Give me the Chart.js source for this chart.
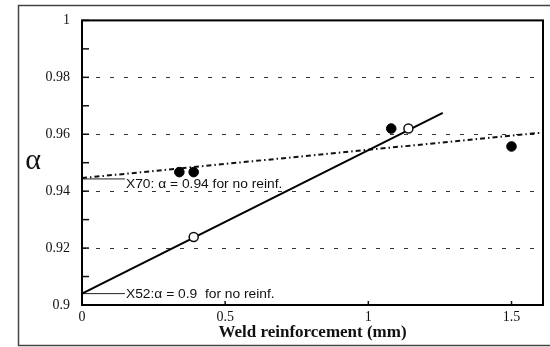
<!DOCTYPE html>
<html>
<head>
<meta charset="utf-8">
<script src="https://cdn.jsdelivr.net/npm/chart.js@4"></script>
<style>
  html, body { margin: 0; padding: 0; background: #fff; }
</style>
</head>
<body>
<canvas id="chart" width="550" height="347"></canvas>
<script>
// X70 points (filled) and X52 points (open)
const x70X = [0.34, 0.39, 1.08, 1.50];
const x70Alpha = [0.9467, 0.9467, 0.962, 0.9557];
const x52X = [0.39, 1.14];
const x52Alpha = [0.9239, 0.962];

// fitted lines
const x52FitX = [0, 1.26];
const x52FitAlpha = [0.904, 0.9675];
const x70FitX = [0, 1.61];
const x70FitAlpha = [0.9446, 0.9606];

// notes with short leader lines
const noteText = ['X70: \u03b1 = 0.94 for no reinf.', 'X52:\u03b1 = 0.9  for no reinf.'];
const noteLeaderX = [0, 0.15];
const noteAlpha = [0.9443, 0.904];
const noteLabelAlpha = [0.9422, 0.9035];

const xTicks = [0, 0.5, 1, 1.5];
const yTicks = [0.9, 0.92, 0.94, 0.96, 0.98, 1];

const pts = (xs, ys) => xs.map((x, i) => ({ x: x, y: ys[i] }));
const fmt = (v) => String(Math.round(v * 100) / 100);
const isMajor = (v) => yTicks.some((t) => Math.abs(t - v) < 1e-6);

const frame = {
  id: "frame",
  afterDatasetsDraw(chart) {
    const { ctx, chartArea: a, scales } = chart;
    ctx.save();
    // inner ticks
    ctx.strokeStyle = "#111";
    ctx.lineWidth = 1.5;
    scales.y.ticks.forEach((t) => {
      const y = scales.y.getPixelForValue(t.value);
      ctx.beginPath();
      ctx.moveTo(a.left, y);
      ctx.lineTo(a.left + 7, y);
      ctx.stroke();
    });
    xTicks.forEach((v) => {
      const x = scales.x.getPixelForValue(v);
      ctx.beginPath();
      ctx.moveTo(x, a.bottom);
      ctx.lineTo(x, a.bottom - 4);
      ctx.stroke();
    });
    // plot box
    ctx.lineWidth = 2;
    ctx.strokeStyle = "#000";
    ctx.strokeRect(a.left, a.top, a.right - a.left, a.bottom - a.top);
    // outer frame
    ctx.lineWidth = 1.5;
    ctx.strokeStyle = "#444";
    ctx.strokeRect(18.5, 5.5, 540, 340);
    // notes (the scanned figure is a little wider than tall)
    ctx.fillStyle = "#111";
    ctx.font = "12px 'Liberation Sans', Arial, sans-serif";
    ctx.textAlign = "left";
    ctx.textBaseline = "middle";
    noteText.forEach((txt, i) => {
      const x = scales.x.getPixelForValue(noteLeaderX[1]) + 1;
      const y = scales.y.getPixelForValue(noteLabelAlpha[i]);
      ctx.save();
      ctx.translate(x, y);
      ctx.scale(1.15, 1);
      ctx.fillText(txt, 0, 0);
      ctx.restore();
    });
    // y axis symbol
    ctx.font = "30px 'Liberation Serif', 'Times New Roman', serif";
    ctx.textAlign = "center";
    ctx.fillText("\u03b1", a.left - 49, scales.y.getPixelForValue(0.9505));
    ctx.restore();
  }
};

new Chart(document.getElementById("chart"), {
  type: "scatter",
  data: {
    datasets: [
      {
        label: "X52",
        data: pts(x52X, x52Alpha),
        backgroundColor: "#fff",
        borderColor: "#111",
        borderWidth: 1.5,
        pointRadius: 4.5
      },
      {
        label: "X70",
        data: pts(x70X, x70Alpha),
        backgroundColor: "#000",
        borderColor: "#000",
        borderWidth: 1,
        pointRadius: 4.8
      },
      {
        label: "X52 fit",
        type: "line",
        data: pts(x52FitX, x52FitAlpha),
        borderColor: "#000",
        borderWidth: 2,
        pointRadius: 0
      },
      {
        label: "X70 fit",
        type: "line",
        data: pts(x70FitX, x70FitAlpha),
        borderColor: "#111",
        borderWidth: 2,
        borderDash: [5, 3, 1.5, 3],
        pointRadius: 0
      },
      {
        label: "X70 note",
        type: "line",
        data: pts(noteLeaderX, [noteAlpha[0], noteAlpha[0]]),
        borderColor: "#222",
        borderWidth: 1,
        pointRadius: 0
      },
      {
        label: "X52 note",
        type: "line",
        data: pts(noteLeaderX, [noteAlpha[1], noteAlpha[1]]),
        borderColor: "#222",
        borderWidth: 1,
        pointRadius: 0
      }
    ]
  },
  options: {
    responsive: false,
    animation: false,
    devicePixelRatio: 1,
    layout: { padding: { top: 16, right: 7, left: 0, bottom: 0 } },
    plugins: { legend: { display: false }, tooltip: { enabled: false } },
    scales: {
      x: {
        type: "linear",
        min: 0,
        max: 1.61,
        afterFit: (s) => { s.height = 42; },
        grid: { display: false, drawTicks: false },
        border: { display: false },
        ticks: {
          stepSize: 0.5,
          includeBounds: false,
          padding: 4,
          color: "#111",
          font: { family: "'Liberation Serif', 'Times New Roman', serif", size: 14 },
          callback: (v) => fmt(v)
        },
        title: {
          display: true,
          text: "Weld reinforcement (mm)",
          color: "#111",
          padding: { top: 0, bottom: 4 },
          font: { family: "'Liberation Serif', 'Times New Roman', serif", size: 17, weight: "bold" }
        }
      },
      y: {
        min: 0.9,
        max: 1,
        afterFit: (s) => { s.width = 82; },
        grid: {
          drawTicks: false,
          lineWidth: 1,
          color: (c) => {
            const v = c.tick ? c.tick.value : null;
            if (v === null || !isMajor(v) || v < 0.905 || v > 0.995) return "rgba(0,0,0,0)";
            return "#333";
          }
        },
        border: { display: false, dash: [4, 10] },
        ticks: {
          stepSize: 0.01,
          padding: 12,
          color: "#111",
          autoSkip: false,
          font: { family: "'Liberation Serif', 'Times New Roman', serif", size: 14 },
          callback: (v) => (isMajor(v) ? fmt(v) : "")
        }
      }
    }
  },
  plugins: [frame]
});
</script>
</body>
</html>
